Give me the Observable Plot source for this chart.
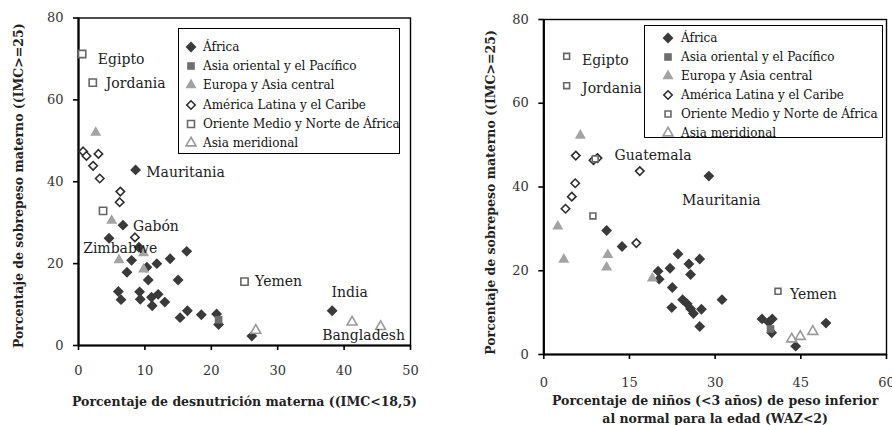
<!DOCTYPE html>
<html><head><meta charset="utf-8">
<script src="https://cdn.jsdelivr.net/npm/d3@7"></script>
<script src="https://cdn.jsdelivr.net/npm/@observablehq/plot@0.6"></script>
<style>
body{margin:0;background:#fff;}
#wrap{position:relative;width:892px;height:425px;overflow:hidden;font-family:"DejaVu Serif",serif;}
.panel{position:absolute;top:0;}
.legend{position:absolute;box-sizing:border-box;border:1.5px solid #000;background:#fff;font-size:12px;color:#111;}
.legend .row{position:absolute;white-space:nowrap;line-height:14px;}
.legend svg{position:absolute;overflow:visible;}
</style></head><body><div id="wrap"></div>
<script>
const regions = ["África","Asia oriental y el Pacífico","Europa y Asia central","América Latina y el Caribe","Oriente Medio y Norte de África","Asia meridional"];

// Left panel: [% maternal undernutrition (BMI<18.5), % maternal overweight (BMI>=25)]
const leftAfrica = [[8.6,42.9],[6.7,29.4],[4.6,26.2],[9.1,24.0],[8.0,20.8],[7.3,17.9],[10.3,19.1],[11.8,20.0],[13.8,21.2],[16.3,23.0],[10.5,16.0],[15.0,16.0],[6.0,13.2],[6.4,11.2],[9.2,13.1],[9.3,11.3],[11.0,11.8],[12.0,12.5],[11.1,9.7],[13.0,10.6],[16.4,8.5],[15.3,6.8],[18.5,7.5],[20.8,7.7],[21.1,5.1],[26.1,2.3],[38.2,8.5]];
const leftEastAsia = [[21.1,6.3]];
const leftEurope = [[2.6,52.0],[5.0,30.5],[6.1,20.9],[9.8,22.6],[9.8,18.6]];
const leftLatAm = [[0.7,47.4],[1.2,46.3],[3.0,46.8],[2.2,43.9],[3.2,40.8],[6.3,37.6],[6.2,35.0],[8.5,26.4]];
const leftMENA = [[0.55,71.2],[2.15,64.2],[3.7,32.9],[25.0,15.6]];
const leftSouthAsia = [[26.7,3.7],[41.2,5.7],[45.5,4.6]];
const leftLabels = [["Egipto",2.9,69.8],["Jordania",4.1,63.9],["Mauritania",10.2,42.2],["Gabón",8.2,29.0],["Zimbabwe",0.7,23.7],["Yemen",26.6,15.6],["India",38.1,13.0],["Bangladesh",36.7,2.4]];
const leftXTicks = [0,10,20,30,40,50];
const leftYTicks = [0,20,40,60,80];
const leftXTitle = "Porcentaje de desnutrición materna ((IMC<18,5)";
const leftYTitle = "Porcentaje de sobrepeso materno ((IMC>=25)";

// Right panel: [% underweight children <3 yrs (WAZ<2), % maternal overweight (BMI>=25)]
const rightAfrica = [[28.9,42.6],[11.0,29.6],[13.7,25.8],[23.5,24.0],[27.3,22.8],[25.4,21.6],[22.1,20.6],[20.0,19.9],[20.2,18.0],[25.7,19.1],[22.5,16.0],[22.4,11.2],[24.3,13.1],[25.1,12.1],[25.7,10.9],[26.2,9.8],[27.6,10.8],[27.3,6.7],[31.2,13.1],[38.2,8.5],[40.0,8.5],[39.4,7.7],[39.9,5.2],[44.1,2.0],[49.4,7.5]];
const rightEastAsia = [[39.7,6.1]];
const rightEurope = [[6.4,52.3],[2.45,30.6],[3.5,22.7],[11.2,23.8],[11.0,20.8],[19.0,18.2]];
const rightLatAm = [[5.6,47.5],[8.7,46.4],[9.4,46.9],[16.8,43.8],[5.5,40.9],[4.9,37.7],[3.8,34.8],[16.2,26.6]];
const rightMENA = [[4.0,71.2],[4.0,64.2],[9.0,46.7],[8.6,33.1],[41.0,15.1]];
const rightSouthAsia = [[43.4,3.7],[44.9,4.3],[47.1,5.5]];
const rightLabels = [["Egipto",6.7,70.2],["Jordania",6.7,63.5],["Guatemala",12.4,47.5],["Mauritania",24.2,36.8],["Yemen",43.1,14.3]];
const rightXTicks = [0,15,30,45,60];
const rightYTicks = [0,20,40,60,80];
const rightXTitle = "Porcentaje de niños (<3 años) de peso inferior\nal normal para la edad (WAZ<2)";
const rightYTitle = "Porcentaje de sobrepeso materno ((IMC>=25)";

const styles = [
  {symbol:"diamond2", fill:"#3a3a3a", stroke:"none", r:4.9, sw:0},
  {symbol:"square", fill:"#6e6e6e", stroke:"none", r:4.3, sw:0},
  {symbol:"triangle", fill:"#a3a3a3", stroke:"none", r:4.1, sw:0},
  {symbol:"diamond2", fill:"#fff", stroke:"#2e2e2e", r:3.8, sw:1.6},
  {symbol:"square", fill:"#fff", stroke:"#666", r:3.9, sw:1.6},
  {symbol:"triangle", fill:"#fff", stroke:"#9a9a9a", r:3.7, sw:1.6}
];

function panel(o){
  const series = o.series;
  return Plot.plot({
    width:446, height:425,
    marginLeft:o.ml, marginRight:o.mr, marginTop:o.mt, marginBottom:o.mb,
    x:{domain:[o.xTicks[0], o.xTicks[o.xTicks.length-1]]},
    y:{domain:[0,80]},
    style:{fontFamily:"DejaVu Serif, serif", fontSize:"13px", color:"#000", overflow:"visible", background:"transparent"},
    marks:[
      Plot.frame({stroke:"#000", strokeWidth:1.4}),
      Plot.axisX({ticks:o.xTicks, tickSize:5, tickPadding:o.xpad, label:null, stroke:"#000", strokeWidth:1.6, fill:"#333", tickFormat:d=>d}),
      Plot.axisY({ticks:o.yTicks, tickSize:5, tickPadding:10, label:null, stroke:"#000", strokeWidth:1.6, fill:"#333", tickFormat:d=>d}),
      Plot.ruleX([o.xTicks[0]], {stroke:"#000", strokeWidth:2.2}),
      Plot.ruleY([0], {stroke:"#000", strokeWidth:2.2}),
      ...series.map((s,i)=>Plot.dot(s, {x:d=>d[0], y:d=>d[1], symbol:()=>styles[i].symbol, r:styles[i].r*(i===4?o.sqScale:1), fill:styles[i].fill, stroke:styles[i].stroke, strokeWidth:styles[i].sw})),
      Plot.text(o.labels, {x:d=>d[1], y:d=>d[2], text:d=>d[0], textAnchor:"start", fontSize:14, fill:"#222"}),
      Plot.text([o.xTitle], {text:d=>d, frameAnchor:"bottom", lineAnchor:"middle", textAnchor:"middle", dy:o.xTitleDy, fontWeight:"bold", fontSize:12.5, lineHeight:1.4, fill:"#222"}),
      Plot.text([o.yTitle], {text:d=>d, frameAnchor:"left", lineAnchor:"middle", textAnchor:"middle", rotate:-90, dx:o.yTitleDx, dy:o.yTitleDy, fontWeight:"bold", fontSize:12.5, fill:"#222"})
    ]
  });
}

function legend(o){
  const div = document.createElement("div");
  div.className = "legend";
  Object.assign(div.style, {left:o.left+"px", top:o.top+"px", width:o.width+"px", height:o.height+"px"});
  regions.forEach((name,i)=>{
    const cy = o.y0 + i*o.step;
    const st = styles[i];
    const sym = {diamond2:d3.symbolDiamond2, square:d3.symbolSquare, triangle:d3.symbolTriangle}[st.symbol];
    const r = st.r*(i===4?o.sqScale:1);
    const path = d3.symbol(sym, Math.PI*r*r)();
    const svg = d3.create("svg").attr("width",1).attr("height",1)
      .style("left",o.mx+"px").style("top",(cy-1.5)+"px");
    svg.append("path").attr("d",path).attr("fill",st.fill).attr("stroke",st.stroke).attr("stroke-width",st.sw);
    div.appendChild(svg.node());
    const row = document.createElement("div");
    row.className="row"; row.textContent=name;
    row.style.left=o.tx+"px"; row.style.top=(cy-8.5)+"px";
    div.appendChild(row);
  });
  return div;
}

const wrap = document.getElementById("wrap");
const left = panel({series:[leftAfrica,leftEastAsia,leftEurope,leftLatAm,leftMENA,leftSouthAsia], labels:leftLabels,
  xTicks:leftXTicks, yTicks:leftYTicks, xTitle:leftXTitle, yTitle:leftYTitle,
  ml:78, mr:36, mt:17.5, mb:80, xpad:15, xTitleDy:55, yTitleDx:-60, yTitleDy:4, sqScale:1.05});
left.classList.add("panel"); left.style.left="0px";
wrap.appendChild(left);
const right = panel({series:[rightAfrica,rightEastAsia,rightEurope,rightLatAm,rightMENA,rightSouthAsia], labels:rightLabels,
  xTicks:rightXTicks, yTicks:rightYTicks, xTitle:rightXTitle, yTitle:rightYTitle,
  ml:97.3, mr:6, mt:19, mb:71, xpad:18, xTitleDy:54, yTitleDx:-53, yTitleDy:5.5, sqScale:0.85});
right.classList.add("panel"); right.style.left="446px";
wrap.appendChild(right);
wrap.appendChild(legend({left:178, top:28, width:222, height:126, y0:19.5, step:19.2, mx:12, tx:24, sqScale:1.0}));
wrap.appendChild(legend({left:644, top:25, width:239, height:113, y0:13.5, step:19, mx:23, tx:36, sqScale:0.85}));
</script></body></html>
